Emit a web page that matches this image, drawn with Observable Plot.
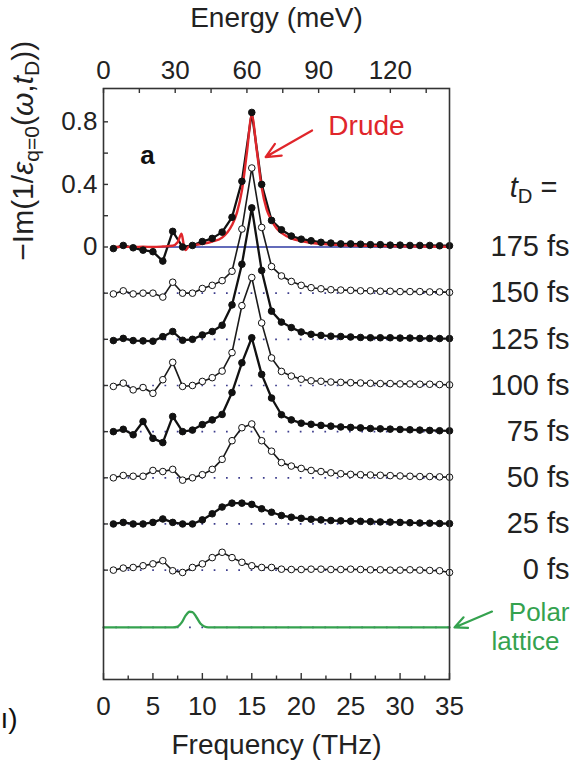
<!DOCTYPE html>
<html><head><meta charset="utf-8">
<script src="https://cdn.jsdelivr.net/npm/d3@7"></script>
<script src="https://cdn.jsdelivr.net/npm/@observablehq/plot@0.6"></script>
<style>
body{margin:0;background:#fff;}
#chart svg{display:block;}
</style>
</head><body><div id="chart"></div>
<script>
// ---------- data ----------
const freqTHz = [1,2,3,4,5,6,7,8,9,10,11,12,13,14,15,16,17,18,19,20,21,22,23,24,25,26,27,28,29,30,31,32,33,34,35];
const delayLabels = ["175 fs","150 fs","125 fs","100 fs","75 fs","50 fs","25 fs","0 fs"];
const offsets = [0,-0.295,-0.59,-0.885,-1.18,-1.475,-1.77,-2.065];
const filledMarker = [true,false,true,false,true,false,true,false];

const s175 = [-0.01,0.01,-0.005,-0.02,-0.03,-0.09,0.10,0.0,0.01,0.035,0.055,0.095,0.19,0.42,0.86,0.40,0.17,0.11,0.07,0.05,0.04,0.03,0.025,0.02,0.02,0.018,0.015,0.015,0.012,0.012,0.01,0.01,0.01,0.008,0.008];
const s150 = [-0.005,0.015,-0.005,0.0,0.0,-0.025,0.07,0.0,0.0,0.03,0.05,0.08,0.14,0.41,0.80,0.42,0.17,0.11,0.075,0.05,0.035,0.028,0.022,0.02,0.018,0.015,0.015,0.012,0.012,0.01,0.01,0.01,0.008,0.008,0.005];
const s125 = [-0.008,0.006,-0.008,-0.01,-0.012,0.017,0.05,-0.006,0.0,0.028,0.05,0.09,0.22,0.48,0.84,0.44,0.18,0.11,0.075,0.047,0.032,0.025,0.02,0.018,0.015,0.012,0.01,0.01,0.01,0.008,0.008,0.006,0.006,0.005,0.005];
const s100 = [-0.006,0.015,-0.028,-0.013,-0.05,0.037,0.148,-0.006,0.0,0.026,0.05,0.092,0.21,0.51,0.69,0.40,0.176,0.09,0.06,0.04,0.03,0.027,0.022,0.02,0.018,0.016,0.014,0.012,0.012,0.01,0.01,0.008,0.008,0.006,0.004];
const s75  = [0.0,0.015,-0.02,0.065,-0.043,-0.07,0.097,0.0,0.01,0.045,0.075,0.11,0.25,0.44,0.60,0.366,0.215,0.108,0.075,0.054,0.047,0.04,0.035,0.03,0.027,0.024,0.02,0.018,0.016,0.014,0.012,0.01,0.008,0.006,0.005];
const s50  = [0.0,0.015,0.01,0.01,0.047,0.04,0.054,-0.015,0.0,0.02,0.054,0.118,0.237,0.32,0.344,0.237,0.17,0.097,0.075,0.06,0.047,0.04,0.032,0.026,0.022,0.02,0.018,0.016,0.014,0.012,0.01,0.008,0.008,0.006,0.004];
const s25  = [0.0,0.01,0.0,0.0,0.01,0.032,0.01,0.0,0.0,0.026,0.065,0.108,0.133,0.133,0.125,0.097,0.075,0.054,0.043,0.036,0.03,0.026,0.022,0.02,0.018,0.017,0.015,0.013,0.012,0.01,0.008,0.006,0.005,0.003,0.002];
const s0   = [0.0,0.013,0.017,0.028,0.04,0.06,-0.004,-0.015,0.017,0.04,0.08,0.114,0.08,0.05,0.028,0.017,0.017,0.006,0.004,0.004,0.006,0.006,0.004,0.004,0.006,0.004,0.002,0.002,0.0,0.0,0.002,0.0,-0.002,-0.004,-0.015];
const seriesValues = [s175,s150,s125,s100,s75,s50,s25,s0];

const drudeFreq = [1,2,3,4,5,6,7,7.5,7.9,8.1,8.3,8.6,9,10,11,12,13,13.5,14,14.5,15,15.5,16,16.5,17,17.5,18,19,20,21,22,24,27,30,35];
const drudeVal  = [0.0,0.002,0.0,0.002,0.0,0.003,0.008,0.03,0.085,0.02,-0.02,0.002,0.01,0.02,0.035,0.06,0.14,0.22,0.36,0.6,0.84,0.62,0.38,0.24,0.17,0.12,0.09,0.055,0.038,0.026,0.02,0.012,0.007,0.004,0.002];

const polarFreq = [0,7.0,7.5,7.9,8.3,8.7,9.0,9.4,9.8,10.2,10.6,35];
const polarVal  = [0,0,0.005,0.03,0.075,0.10,0.098,0.065,0.025,0.006,0,0];
const polarOffset = -2.431;

const freqTicks = [0,5,10,15,20,25,30,35];
const freqMinorTicks = [2.5,7.5,12.5,17.5,22.5,27.5,32.5];
const energyTicks = [0,15,30,45,60,75,90,105,120,135];
const energyLabels = [0,30,60,90,120];
const meVperTHz = 4.1357;
const yTickLabels = [0.8,0.4,0];
const yTicks = [0.8,0.6,0.4,0.2,0].concat(offsets.slice(1));

// ---------- build rows ----------
const rows = [];
seriesValues.forEach((vals, k) => {
  vals.forEach((v, i) => rows.push({f: freqTHz[i], v: v + offsets[k], series: delayLabels[k], filled: filledMarker[k]}));
});
const drude = drudeFreq.map((f, i) => ({f, v: drudeVal[i]}));
const polar = polarFreq.map((f, i) => ({f, v: polarVal[i] + polarOffset}));
const labelRows = delayLabels.map((t, i) => ({t, y: offsets[i]}));

const W = 579, H = 763;
const mL = 103, mR = 130, mT = 88, mB = 84;
const frameW = W - mL - mR, frameH = H - mT - mB;
const font = "'Liberation Sans', Arial, Helvetica, sans-serif";
const ink = "#222";
const red = "#e0262b", green = "#35a24f", blue = "#2f3aa3", dotBlue = "#3c3c8c";

const chart = Plot.plot({
  width: W, height: H,
  marginLeft: mL, marginRight: mR, marginTop: mT, marginBottom: mB,
  style: {fontFamily: font, fontSize: "26px", color: ink, background: "#fff"},
  x: {domain: [0, 35]},
  y: {domain: [-2.764, 1.013]},
  marks: [
    Plot.ruleY(offsets.slice(1).concat([polarOffset]), {stroke: dotBlue, strokeWidth: 1.7, strokeDasharray: "1.7,10.6", strokeLinecap: "butt"}),
    Plot.ruleY([0], {x1: freqTHz[0], x2: freqTHz[freqTHz.length - 1], stroke: blue, strokeWidth: 1.3}),
    Plot.line(polar, {x: "f", y: "v", stroke: green, strokeWidth: 2.3, curve: "monotone-x"}),
    Plot.line(rows.filter(d => !d.filled), {x: "f", y: "v", z: "series", stroke: "#1a1a1a", strokeWidth: 1.6}),
    Plot.line(rows.filter(d => d.filled), {x: "f", y: "v", z: "series", stroke: "#111", strokeWidth: 2.3}),
    Plot.line(drude, {x: "f", y: "v", stroke: red, strokeWidth: 2.4, curve: "monotone-x"}),
    Plot.dot(rows, {x: "f", y: "v", r: 3.3, fill: d => d.filled ? "#111" : "#fff", stroke: "#111", strokeWidth: 1}),
    Plot.frame({stroke: "#333", strokeWidth: 1.6}),
    // inward ticks
    Plot.ruleX(freqTicks, {insetTop: frameH - 6, stroke: "#333", strokeWidth: 1.4}),
    Plot.ruleX(freqMinorTicks, {insetTop: frameH - 3.5, stroke: "#333", strokeWidth: 1.4}),
    Plot.ruleX(energyTicks.map(m => m / meVperTHz), {insetBottom: frameH - 5, stroke: "#333", strokeWidth: 1.4}),
    Plot.ruleY(yTicks, {insetRight: frameW - 5, stroke: "#333", strokeWidth: 1.4}),
    // axes labels
    Plot.axisX(freqTicks, {anchor: "bottom", tickSize: 0, tickPadding: 17, fontSize: 26, fill: ink, label: null}),
    Plot.axisX(energyLabels.map(m => m / meVperTHz), {anchor: "top", tickSize: 0, tickPadding: 10, fontSize: 26, fill: ink, label: null,
      tickFormat: d => String(Math.round(d * meVperTHz))}),
    Plot.axisY(yTickLabels, {anchor: "left", tickSize: 0, tickPadding: 6, fontSize: 26, fill: ink, label: null,
      tickFormat: d => d === 0 ? "0" : d.toFixed(1)}),
    Plot.text(["Energy (meV)"], {frameAnchor: "top", dy: -70, lineAnchor: "middle", fontSize: 28, fill: ink}),
    Plot.text(["Frequency (THz)"], {frameAnchor: "bottom", dy: 66, lineAnchor: "middle", fontSize: 28, fill: ink}),
    Plot.text(["YLABEL"], {frameAnchor: "left", dx: -80, y: [0.615], rotate: -90, textAnchor: "middle", lineAnchor: "middle", fontSize: 30, fill: ink}),
    // right-hand labels
    Plot.text(["TDLABEL"], {frameAnchor: "right", dx: 108, y: [0.38], textAnchor: "end", fontSize: 29, fill: ink}),
    Plot.text(labelRows, {frameAnchor: "right", dx: 120, y: "y", text: "t", textAnchor: "end", fontSize: 29, fill: ink}),
    Plot.text(["Polar"], {frameAnchor: "right", dx: 120, y: [polarOffset + 0.092], textAnchor: "end", fontSize: 26, fill: green}),
    Plot.text(["lattice"], {frameAnchor: "right", dx: 42, y: [polarOffset - 0.092], textAnchor: "start", fontSize: 26, fill: green}),
    // annotations
    Plot.text(["a"], {x: [4.45], y: [0.585], fontSize: 26, fontWeight: "bold", fill: "#111"}),
    Plot.text(["Drude"], {x: [26.6], y: [0.77], fontSize: 28, fill: red}),
    Plot.arrow([{x1: 21.1, y1: 0.745, x2: 16.4, y2: 0.575}], {x1: "x1", y1: "y1", x2: "x2", y2: "y2", stroke: red, strokeWidth: 2.2, headLength: 11, headAngle: 50}),
    Plot.arrow([{x1: 39.3, y1: -2.33, x2: 35.5, y2: polarOffset}], {x1: "x1", y1: "y1", x2: "x2", y2: "y2", stroke: green, strokeWidth: 2.2, headLength: 11, headAngle: 50}),
    Plot.text(["ı)"], {frameAnchor: "bottom-left", dx: -103, dy: 48, textAnchor: "start", fontSize: 28, fill: "#111"})
  ]
});

const NS = "http://www.w3.org/2000/svg";
function rich(node, parts) {
  node.textContent = "";
  parts.forEach(p => {
    const t = document.createElementNS(NS, "tspan");
    t.textContent = p.t;
    if (p.i) t.setAttribute("font-style", "italic");
    if (p.sub) { t.setAttribute("font-size", "70%"); t.setAttribute("dy", "0.3em"); }
    if (p.back) t.setAttribute("dy", "-0.21em");
    node.appendChild(t);
  });
}
chart.querySelectorAll("text").forEach(n => {
  if (n.textContent === "YLABEL") {
    rich(n, [{t: "\u2212Im(1/"}, {t: "\u03b5", i: true}, {t: "q=0", sub: true}, {t: "(", back: true}, {t: "\u03c9", i: true}, {t: ","}, {t: "t", i: true}, {t: "D", sub: true}, {t: "))", back: true}]);
  } else if (n.textContent === "TDLABEL") {
    rich(n, [{t: "t", i: true}, {t: "D", sub: true}, {t: " =", back: true}]);
  }
});
document.getElementById("chart").appendChild(chart);
</script>
</body></html>
